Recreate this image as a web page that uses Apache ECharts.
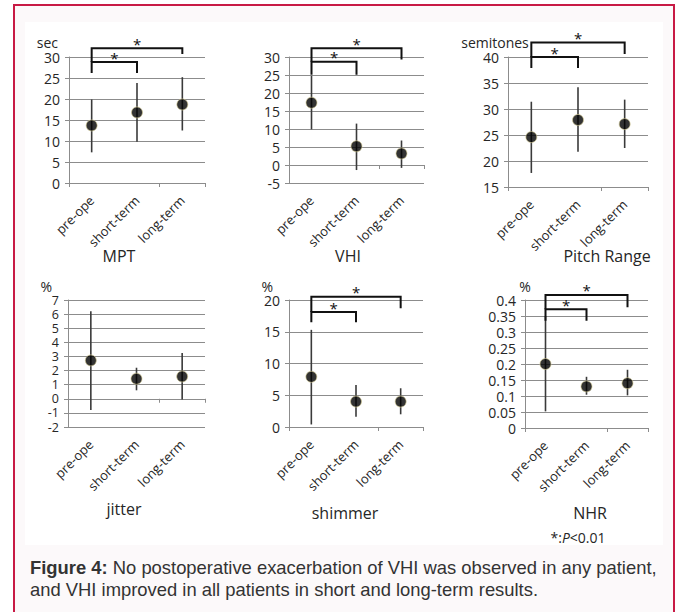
<!DOCTYPE html>
<html><head><meta charset="utf-8">
<script src="https://cdn.jsdelivr.net/npm/echarts@6/dist/echarts.min.js"></script>
<style>html,body{margin:0;padding:0;background:#fff;}#c{width:677px;height:612px;}</style>
</head><body><div id="c"></div>
<script>
// ---------- data ----------
const categories = ['pre-ope', 'short-term', 'long-term'];

const mptMean = [13.7, 16.8, 18.7];
const mptLow  = [7.3, 9.8, 12.5];
const mptHigh = [19.9, 23.8, 25.2];

const vhiMean = [17.3, 5.2, 3.2];
const vhiLow  = [9.9, -1.4, -0.8];
const vhiHigh = [24.8, 11.5, 6.8];

const pitchMean = [24.6, 27.9, 27.1];
const pitchLow  = [17.7, 21.8, 22.5];
const pitchHigh = [31.4, 34.2, 31.8];

const jitterMean = [2.72, 1.42, 1.58];
const jitterLow  = [-0.8, 0.6, -0.05];
const jitterHigh = [6.2, 2.2, 3.25];

const shimmerMean = [7.9, 4.0, 4.0];
const shimmerLow  = [0.4, 1.6, 2.0];
const shimmerHigh = [15.3, 6.6, 6.1];

const nhrMean = [0.2, 0.13, 0.14];
const nhrLow  = [0.052, 0.104, 0.102];
const nhrHigh = [0.35, 0.16, 0.182];

// brackets: [from category, to category, level, left foot, right foot]
const mptBrackets     = [[-0.03, 1.10, 28.8, 26.2, 26.2], [-0.03, 2.03, 32.1, 28.8, 30.7]];
const vhiBrackets     = [[0.02, 1.12, 28.7, 25.1, 25.1], [0.02, 2.09, 32.4, 28.7, 29.3]];
const pitchBrackets   = [[0.06, 1.11, 40.0, 37.9, 37.9], [0.06, 2.06, 42.8, 40.0, 40.6]];
const jitterBrackets  = [];
const shimmerBrackets = [[0.03, 1.14, 18.1, 16.5, 16.5], [0.03, 2.11, 20.5, 18.1, 18.7]];
const nhrBrackets     = [[0.01, 1.19, 0.371, 0.335, 0.335], [0.01, 2.27, 0.416, 0.371, 0.377]];

const panelTitles = ['MPT', 'VHI', 'Pitch Range', 'jitter', 'shimmer', 'NHR'];
const unitNames   = ['sec', '', 'semitones', '%', '%', '%'];
const yMin      = [0, -5, 15, -2, 0, 0];
const yMax      = [30, 30, 40, 7, 20, 0.4];
const yInterval = [5, 5, 5, 1, 5, 0.05];
const captionBold = 'Figure 4:';
const captionLine1 = ' No postoperative exacerbation of VHI was observed in any patient,';
const captionLine2 = 'and VHI improved in all patients in short and long-term results.';

const panelData = [
  [mptMean, mptLow, mptHigh, mptBrackets],
  [vhiMean, vhiLow, vhiHigh, vhiBrackets],
  [pitchMean, pitchLow, pitchHigh, pitchBrackets],
  [jitterMean, jitterLow, jitterHigh, jitterBrackets],
  [shimmerMean, shimmerLow, shimmerHigh, shimmerBrackets],
  [nhrMean, nhrLow, nhrHigh, nhrBrackets]
];

// ---------- layout ----------
const grids = [
  {left: 69,  top: 57,  width: 136, height: 126},
  {left: 289, top: 57,  width: 135, height: 126},
  {left: 508, top: 57,  width: 140, height: 130},
  {left: 68,  top: 300, width: 137, height: 127},
  {left: 289, top: 300, width: 134, height: 127},
  {left: 525, top: 300, width: 123, height: 128}
];
const titlePos = [[119, 256], [348, 256], [607, 256], [124, 509], [345, 513], [590, 513]];
const unitStyle = [
  {align: 'right', padding: [0, 11, 0, 0], gap: 8},
  {align: 'right', padding: [0, 0, 0, 0], gap: 8},
  {align: 'center', padding: [0, 26, 0, 0], gap: 8},
  {align: 'right', padding: [0, 16, 0, 0], gap: 5},
  {align: 'right', padding: [0, 16, 0, 0], gap: 4},
  {align: 'center', padding: [0, 0, 0, 0], gap: 4}
];
const tickFontSize = [14, 14, 14, 12.5, 14, 14];

const FONT = '"Open Sans"';
const TXT = '#262626';
const GRIDC = '#8c8c8c';

const xAxes = [], yAxes = [], series = [];
grids.forEach((g, i) => {
  const zeroIn = yMin[i] <= 0 && yMax[i] >= 0;
  xAxes.push({
    type: 'category', data: categories, gridIndex: i,
    position: zeroIn && yMin[i] < 0 ? 'top' : 'bottom',
    axisLine: {show: true, onZero: true, lineStyle: {color: GRIDC, width: 1}},
    axisTick: {show: true, inside: zeroIn && yMin[i] < 0, length: 4, lineStyle: {color: GRIDC}},
    axisLabel: {show: false}, splitLine: {show: false}
  });
  xAxes.push({
    type: 'category', data: categories, gridIndex: i, position: 'bottom',
    axisLine: {show: false, onZero: false}, axisTick: {show: false},
    axisLabel: {show: true, rotate: 45, interval: 0, margin: 15, color: TXT,
      fontFamily: FONT, fontSize: 13},
    splitLine: {show: false}
  });
  const us = unitStyle[i];
  yAxes.push({
    type: 'value', gridIndex: i, min: yMin[i], max: yMax[i], interval: yInterval[i],
    name: unitNames[i], nameLocation: 'end', nameGap: us.gap,
    nameTextStyle: {align: us.align, padding: us.padding, color: TXT, fontFamily: FONT, fontSize: 14, lineHeight: 14},
    axisLine: {show: true, lineStyle: {color: GRIDC, width: 1}},
    axisTick: {show: true, length: 4, lineStyle: {color: GRIDC}},
    axisLabel: {color: TXT, fontFamily: FONT, fontSize: tickFontSize[i], margin: 9, lineHeight: 12},
    splitLine: {show: true, lineStyle: {color: GRIDC, width: 1}}
  });
  const [mean, low, high, brackets] = panelData[i];
  series.push({
    type: 'custom', xAxisIndex: 2 * i, yAxisIndex: i, z: 3,
    data: categories.map((c, k) => [k, low[k], high[k]]),
    renderItem: (params, api) => {
      const a = api.coord([api.value(0), api.value(1)]);
      const b = api.coord([api.value(0), api.value(2)]);
      return {type: 'line', shape: {x1: a[0], y1: a[1], x2: b[0], y2: b[1]},
        style: {stroke: '#3a3a3a', lineWidth: 1.6}};
    }
  });
  series.push({
    type: 'scatter', xAxisIndex: 2 * i, yAxisIndex: i, z: 4,
    symbol: 'circle', symbolSize: 11,
    itemStyle: {color: '#000', borderColor: 'rgba(215,205,150,0.8)', borderWidth: 1},
    data: mean
  });
  if (brackets.length) {
    series.push({
      type: 'custom', xAxisIndex: 2 * i, yAxisIndex: i, z: 5, clip: false,
      data: brackets,
      renderItem: (params, api) => {
        const l = api.coord([api.value(0), api.value(2)]);
        const r = api.coord([api.value(1), api.value(2)]);
        const lf = api.coord([api.value(0), api.value(3)]);
        const rf = api.coord([api.value(1), api.value(4)]);
        return {type: 'group', children: [
          {type: 'polyline', shape: {points: [[l[0], lf[1]], [l[0], l[1]], [r[0], r[1]], [r[0], rf[1]]]},
            style: {stroke: '#111', lineWidth: 2, fill: null}},
          {type: 'text', x: (l[0] + r[0]) / 2, y: l[1] + 3,
            style: {text: '*', fill: '#111', font: '15px "Open Sans"', align: 'center', verticalAlign: 'bottom'}}
        ]};
      }
    });
  }
});

const graphics = [
  {type: 'rect', z: -100, shape: {x: 14, y: 5, width: 660, height: 640},
    style: {fill: '#fcf9fa', stroke: '#c81a45', lineWidth: 2}},
  {type: 'rect', z: -99, shape: {x: 25, y: 22, width: 638, height: 523}, style: {fill: '#ffffff'}}
];
panelTitles.forEach((t, i) => {
  graphics.push({type: 'text', z: 50, x: titlePos[i][0], y: titlePos[i][1],
    style: {text: t, fill: TXT, font: '16px "Open Sans"', align: 'center', verticalAlign: 'middle'}});
});
graphics.push({type: 'text', z: 50, x: 578, y: 537,
  style: {text: '*:{i|P}<0.01', fill: TXT, font: '14px "Open Sans"', align: 'center', verticalAlign: 'middle',
    rich: {i: {fontStyle: 'italic', fontFamily: 'Open Sans', fontSize: 14, fill: TXT}}}});
graphics.push({type: 'text', z: 50, x: 30, y: 556,
  style: {text: '{b|' + captionBold + '}' + captionLine1 + '\n' + captionLine2,
    fill: '#333', font: '18.4px "Liberation Sans"', lineHeight: 22, align: 'left', verticalAlign: 'top',
    rich: {b: {fontWeight: 'bold', fontFamily: 'Liberation Sans', fontSize: 18.4, fill: '#333', lineHeight: 22}}}});

const chart = echarts.init(document.getElementById('c'), null, {renderer: 'svg'});
chart.setOption({
  animation: false,
  grid: grids.map(g => Object.assign({containLabel: false}, g)),
  xAxis: xAxes, yAxis: yAxes, series: series,
  graphic: {elements: graphics}
});
</script></body></html>
